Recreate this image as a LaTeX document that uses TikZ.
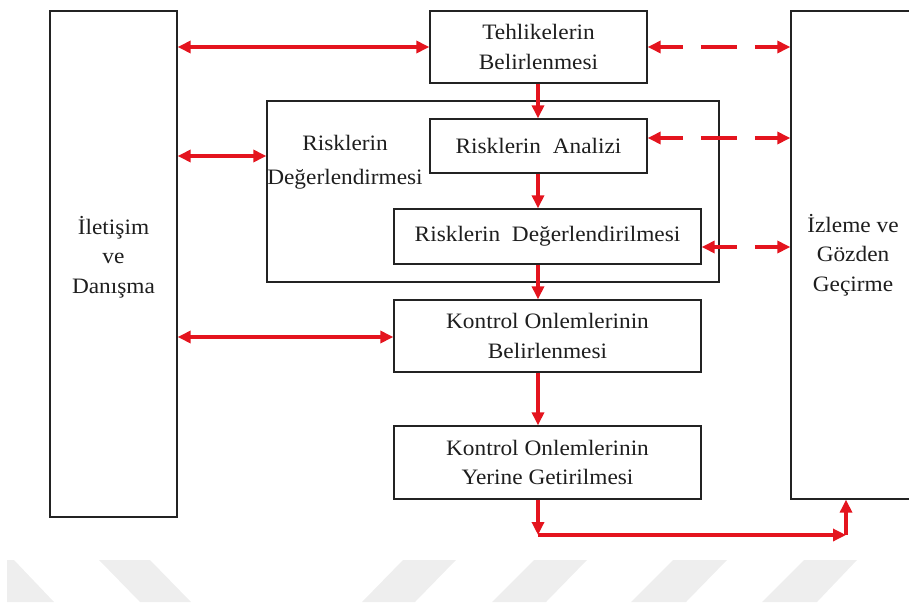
\documentclass[tikz,border=0pt]{standalone}
\usepackage{fontspec}
\setmainfont{Liberation Serif}[FakeStretch=1.06]
\usetikzlibrary{arrows.meta}
\definecolor{arrred}{RGB}{228,20,30}
\definecolor{boxline}{RGB}{35,35,35}
\definecolor{wm}{RGB}{238,238,238}
\definecolor{txtcol}{RGB}{30,30,30}
\begin{document}
\begin{tikzpicture}[x=1pt,y=-1pt,
  box/.style={draw=boxline, line width=1.3pt, inner sep=0pt, fill=none},
  txt/.style={font=\fontsize{22}{29.5}\selectfont, align=center, text=txtcol, inner sep=0pt},
  arr/.style={draw=arrred, line width=3.2pt, -{Triangle[length=13pt,width=12pt]}},
  darr/.style={draw=arrred, line width=3.2pt, {Triangle[length=13pt,width=12pt]}-{Triangle[length=13pt,width=12pt]}},
  ddash/.style={darr, dash pattern=on 36pt off 18pt, dash phase=13pt}
]
\useasboundingbox (0,0) rectangle (909,605);
\clip (0,0) rectangle (909,605);

% watermark bands
\fill[wm] (7,560) -- (14,560) -- (54,602) -- (7,602) -- cycle;
\fill[wm] (99,560) -- (150,560) -- (191,602) -- (140,602) -- cycle;
\fill[wm] (403,560) -- (456,560) -- (415,602) -- (362,602) -- cycle;
\fill[wm] (534,560) -- (587,560) -- (546,602) -- (492,602) -- cycle;
\fill[wm] (673,560) -- (727,560) -- (686,602) -- (631,602) -- cycle;
\fill[wm] (804,560) -- (857,560) -- (817,602) -- (762,602) -- cycle;

% boxes
\node[box, minimum width=127pt, minimum height=506pt] (ilet) at (113.5,264) {};
\node[txt] (iletT) at (113.5,257) {İletişim\\ve\\Danışma};

\node[box, minimum width=124pt, minimum height=488pt] (izle) at (853,255) {};
\node[txt] (izleT) at (853,255) {İzleme ve\\Gözden\\Geçirme};

\node[box, minimum width=452pt, minimum height=181pt] (deg) at (493,191.5) {};
\node[txt, align=center] (degT) at (345,162) {Risklerin\\[5pt]Değerlendirmesi};

\node[box, txt, minimum width=217pt, minimum height=72pt] (tehl) at (538.5,47) {Tehlikelerin\\Belirlenmesi};
\node[box, txt, minimum width=217pt, minimum height=54pt] (anal) at (538.5,146) {Risklerin\ \ Analizi};
\node[box, txt, minimum width=307pt, minimum height=55pt] (degl) at (547.5,236.5) {Risklerin\ \ Değerlendirilmesi};
\node[box, txt, minimum width=307pt, minimum height=72pt] (kob) at (547.5,336) {Kontrol Onlemlerinin\\Belirlenmesi};
\node[box, txt, minimum width=307pt, minimum height=73pt] (kyg) at (547.5,462.5) {Kontrol Onlemlerinin\\Yerine Getirilmesi};

% left double arrows
\draw[darr] (ilet.east |- tehl.west) -- (tehl.west);
\draw[darr] (ilet.east |- 0,156) -- (deg.west |- 0,156);
\draw[darr] (ilet.east |- 0,337) -- (kob.west |- 0,337);

% right dashed double arrows
\draw[ddash] (tehl.east) -- (tehl.east -| izle.west);
\draw[ddash] (anal.east |- 0,138) -- (izle.west |- 0,138);
\draw[ddash] (degl.east |- 0,247) -- (izle.west |- 0,247);

% vertical flow
\coordinate (col) at (538,0);
\draw[arr] (tehl.south -| col) -- (anal.north -| col);
\draw[arr] (anal.south -| col) -- (degl.north -| col);
\draw[arr] (degl.south -| col) -- (kob.north -| col);
\draw[arr] (kob.south -| col) -- (kyg.north -| col);

% bottom return path
\coordinate (c1) at (538,535);
\coordinate (c2) at (846,535);
\draw[arr] (kyg.south -| col) -- (c1);
\draw[arr] (c1) -- (c2);
\draw[arr] (c2) -- (c2 |- izle.south);
\end{tikzpicture}
\end{document}
